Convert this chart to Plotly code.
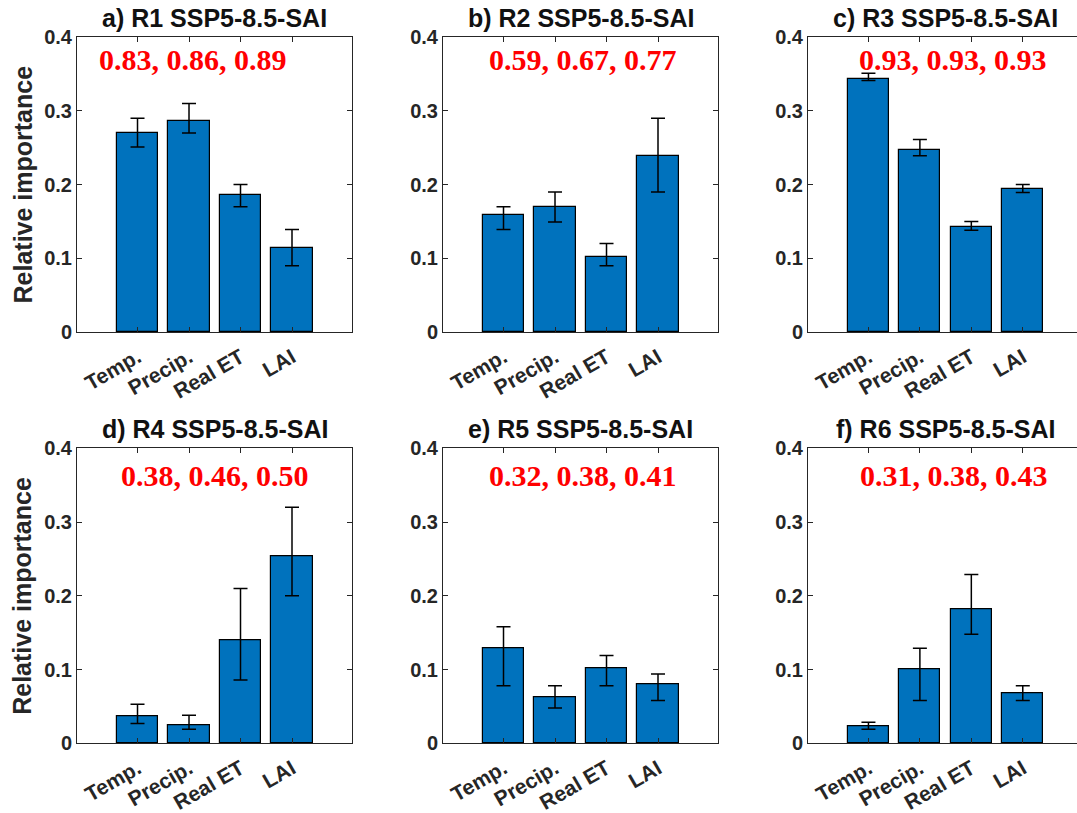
import plotly.graph_objects as go

categories = ["Temp.", "Precip.", "Real ET", "LAI"]
titles = ["a) R1 SSP5-8.5-SAI", "b) R2 SSP5-8.5-SAI", "c) R3 SSP5-8.5-SAI",
          "d) R4 SSP5-8.5-SAI", "e) R5 SSP5-8.5-SAI", "f) R6 SSP5-8.5-SAI"]
scores = ["0.83, 0.86, 0.89", "0.59, 0.67, 0.77", "0.93, 0.93, 0.93",
          "0.38, 0.46, 0.50", "0.32, 0.38, 0.41", "0.31, 0.38, 0.43"]

r1_vals = [0.270, 0.286, 0.186, 0.114]
r1_up = [0.290, 0.310, 0.200, 0.139]
r1_lo = [0.251, 0.270, 0.170, 0.090]

r2_vals = [0.159, 0.170, 0.102, 0.239]
r2_up = [0.170, 0.190, 0.120, 0.290]
r2_lo = [0.139, 0.149, 0.090, 0.190]

r3_vals = [0.343, 0.247, 0.143, 0.194]
r3_up = [0.351, 0.261, 0.150, 0.200]
r3_lo = [0.341, 0.239, 0.138, 0.189]

r4_vals = [0.037, 0.025, 0.139, 0.253]
r4_up = [0.053, 0.038, 0.210, 0.320]
r4_lo = [0.027, 0.019, 0.086, 0.200]

r5_vals = [0.129, 0.062, 0.102, 0.080]
r5_up = [0.158, 0.078, 0.119, 0.094]
r5_lo = [0.078, 0.048, 0.078, 0.058]

r6_vals = [0.0225, 0.101, 0.182, 0.068]
r6_up = [0.0285, 0.129, 0.229, 0.078]
r6_lo = [0.019, 0.058, 0.148, 0.058]

y_ticks = [0, 0.1, 0.2, 0.3, 0.4]
y_ticktext = ["0", "0.1", "0.2", "0.3", "0.4"]

panels = [(r1_vals, r1_up, r1_lo), (r2_vals, r2_up, r2_lo), (r3_vals, r3_up, r3_lo),
          (r4_vals, r4_up, r4_lo), (r5_vals, r5_up, r5_lo), (r6_vals, r6_up, r6_lo)]

W, H = 1077, 813
xpos = [1, 2, 3, 4]

# layout geometry (pixels)
col_px = [(77, 352), (443, 718), (808, 1077)]
row_px = [(37, 332), (448.3, 743.3)]
x_ranges = [[-0.175, 5.165], [-0.175, 5.165], [-0.175, 5.054]]
score_x = [2.08, 2.54, 2.65, 2.51, 2.55, 2.67]
score_y = [0.370, 0.370, 0.370, 0.363, 0.363, 0.363]

axis_col = "#262626"
fig = go.Figure()
annotations = []
layout = {}
for i, (vals, up, lo) in enumerate(panels):
    r, c = divmod(i, 3)
    n = "" if i == 0 else str(i + 1)
    xa, ya = "x" + n, "y" + n
    plus = [u - v for u, v in zip(up, vals)]
    minus = [v - l for v, l in zip(vals, lo)]
    fig.add_trace(go.Bar(
        x=xpos, y=vals, width=0.8, xaxis=xa, yaxis=ya,
        marker=dict(color="#0072BD", line=dict(color="#000000", width=1.2)),
        error_y=dict(type="data", symmetric=False, array=plus, arrayminus=minus,
                     color="#000000", thickness=1.5, width=7),
        showlegend=False, hoverinfo="y"))
    x0, x1 = col_px[c]
    y0, y1 = row_px[r]
    layout["xaxis" + n] = dict(
        domain=[x0 / W, x1 / W], range=x_ranges[c], anchor=ya, automargin=False,
        tickvals=xpos, ticktext=["<b>" + t + "</b>" for t in categories], tickangle=-30,
        ticks="inside", ticklen=5, tickcolor=axis_col, ticklabelstandoff=4,
        showline=True, linecolor=axis_col, linewidth=1, mirror="allticks",
        showgrid=False, zeroline=False, fixedrange=True,
        tickfont=dict(family="Liberation Sans, Arial", size=21, color=axis_col))
    layout["yaxis" + n] = dict(
        domain=[1 - y1 / H, 1 - y0 / H], range=[0, 0.4], anchor=xa, automargin=False,
        tickvals=y_ticks, ticktext=["<b>" + t + "</b>" for t in y_ticktext],
        ticks="inside", ticklen=5, tickcolor=axis_col,
        showline=True, linecolor=axis_col, linewidth=1,
        mirror=("allticks" if c < 2 else False),
        showgrid=False, zeroline=False, fixedrange=True,
        tickfont=dict(family="Liberation Sans, Arial", size=20, color=axis_col))
    # panel title
    annotations.append(dict(
        text="<b>" + titles[i] + "</b>", xref="paper", yref="paper",
        x=((x0 + (x0 + 275)) / 2) / W, y=1 - (y0 - 19) / H,
        xanchor="center", yanchor="middle", showarrow=False,
        font=dict(family="Liberation Sans, Arial", size=25, color="#111111")))
    # red score text
    annotations.append(dict(
        text="<b>" + scores[i] + "</b>", xref=xa, yref=ya,
        x=score_x[i], y=score_y[i], xanchor="center", yanchor="middle",
        showarrow=False,
        font=dict(family="Liberation Serif, Times New Roman", size=30, color="#FF0000")))
    if c == 0:
        annotations.append(dict(
            text="<b>Relative importance</b>", xref="paper", yref="paper",
            x=22 / W, y=1 - ((y0 + y1) / 2) / H, textangle=-90,
            xanchor="center", yanchor="middle", showarrow=False,
            font=dict(family="Liberation Sans, Arial", size=25, color=axis_col)))

fig.update_layout(**layout)
fig.update_layout(
    width=W, height=H, margin=dict(l=0, r=0, t=0, b=0, autoexpand=False),
    paper_bgcolor="white", plot_bgcolor="white",
    annotations=annotations, bargap=0)
fig.write_html("out.html", config={"displayModeBar": False},
               post_script="document.body.style.margin='0';document.body.style.overflow='hidden';")
